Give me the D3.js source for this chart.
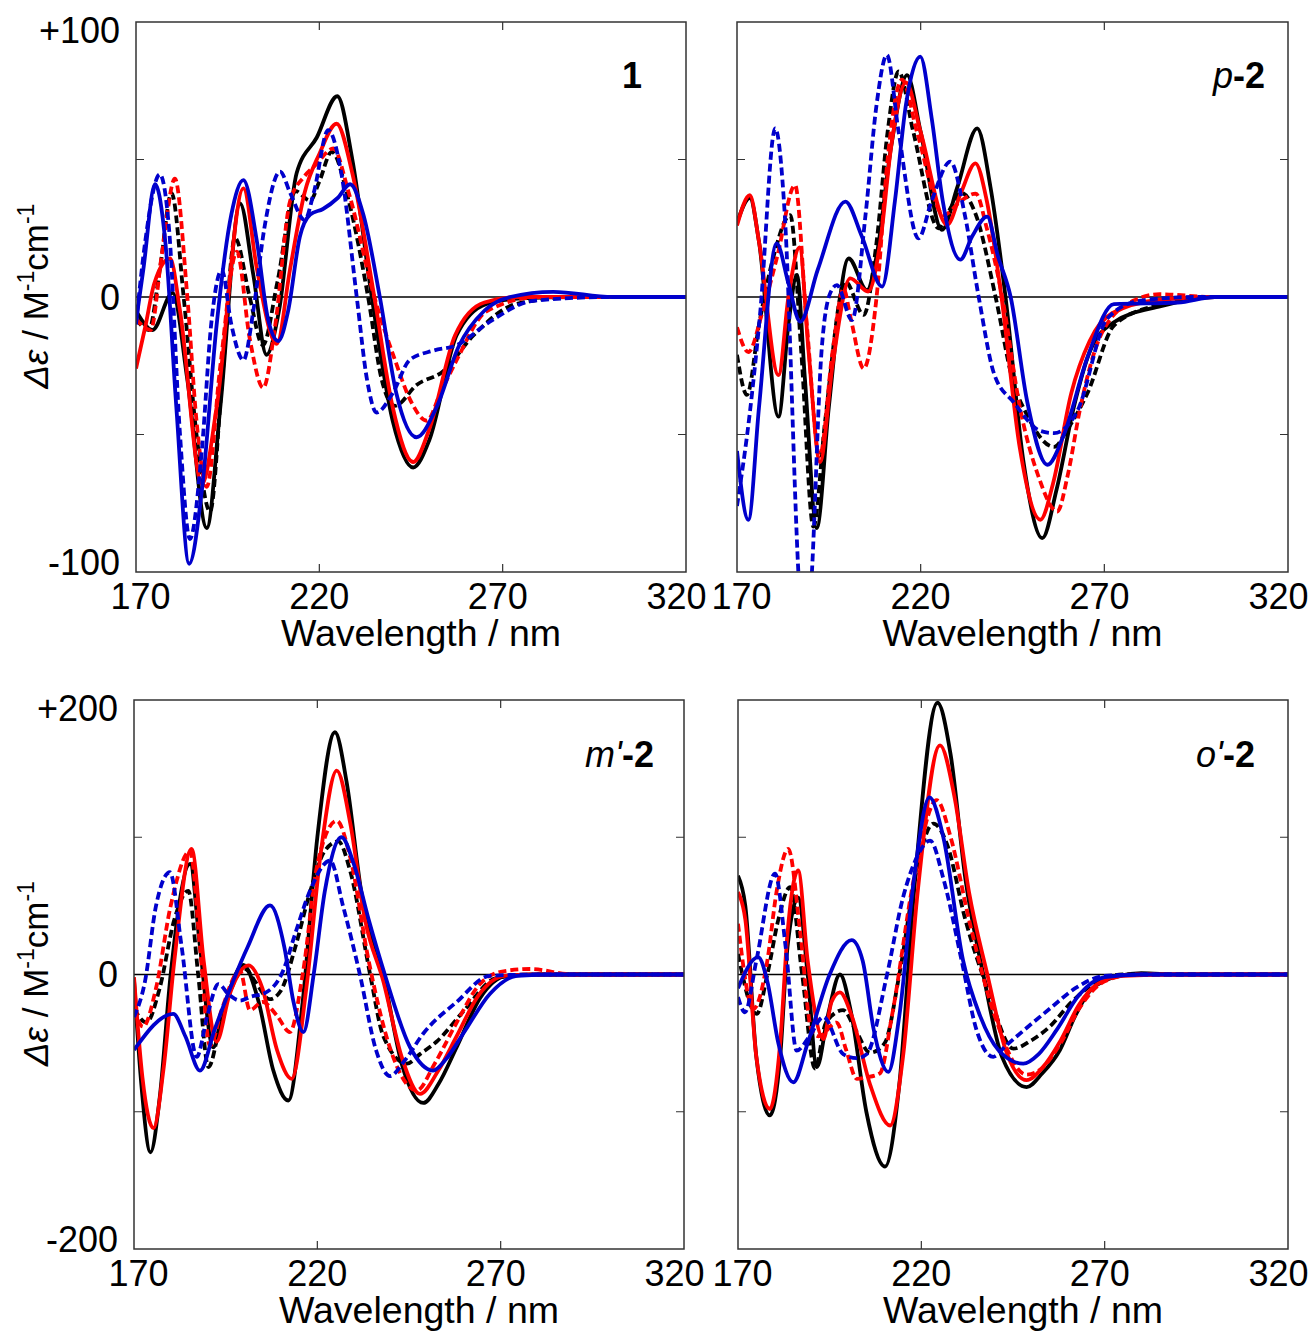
<!DOCTYPE html>
<html>
<head>
<meta charset="utf-8">
<script src="https://cdn.jsdelivr.net/npm/d3@7"></script>
<style>
body { margin: 0; background: #fff; }
text { font-family: "Liberation Sans", Arial, sans-serif; }
</style>
</head>
<body>
<svg id="chart" width="1312" height="1331"></svg>
<script>
var width = 1312,
    height = 1331;

// x ticks (nm) and y ticks for the two rows
const xTicks = [170, 220, 270, 320];
const yTicksTop = [-100, 0, 100];
const yTicksBottom = [-200, 0, 200];

// [wavelength nm, delta epsilon]
// panel 1
const p1_blackSolid = [[170,-5],[174.5,-12],[180,1.5],[184,-30],[189.3,-84],[193,-40],[198.4,34],[202,8],[205.6,-21],[209,-5],[213.8,45],[219.3,58],[224.9,73],[229,50],[234.3,0],[240,-45],[245.6,-62],[250,-52],[257.4,-14],[265.6,-2.5],[275,-0.5],[290,0],[320,0]];
const p1_redSolid = [[170,-26],[172.5,-11],[175,5],[179.3,14],[182,-5],[188,-68],[192,-40],[199.3,39.5],[203,10],[208.4,-17],[212,10],[216,38],[220,52],[224.7,63],[229,45],[235,0],[240,-40],[245.6,-60],[250,-48],[257,-14],[265,-2],[275,0],[320,0]];
const p1_blueSolid = [[170,-9],[172,10],[175.2,41],[178,20],[181,-40],[184.5,-97],[188,-70],[192,-10],[196,30],[199.3,42.5],[203,20],[206,-8],[208.8,-16],[211.5,-5],[214.7,22],[217.5,30],[221,32],[225,36],[228.4,41],[232,30],[236.5,0],[241,-35],[246.5,-51],[252,-40],[258,-18],[265,-5],[272,0],[283.8,1.9],[300,0],[320,0]];
const p1_blackDashed = [[170,-8],[173.5,-12],[176.5,10],[179.7,37.8],[183,0],[186.5,-50],[190.2,-78],[193.5,-30],[197,21.5],[201,0],[204.6,-17.5],[208.5,5],[213.5,38.5],[217.5,35],[220,42],[223.4,52.8],[228,35],[233.3,0],[237,-30],[240.6,-39.6],[246.5,-32],[253.8,-27],[262,-14],[273.8,-2.5],[290,0],[320,0]];
const p1_redDashed = [[170,-8],[174,-12],[177,15],[180.6,43],[184,0],[186.5,-45],[189.3,-69],[193,-25],[197.5,16.5],[201,-15],[204.7,-33],[208,-10],[212,34.7],[216,44],[219,48],[223.8,54],[228,38],[235,0],[240.6,-22.8],[245,-38],[249.3,-45],[253,-35],[257.5,-22.8],[265.6,-5.2],[280,0],[320,0]];
const p1_blueDashed = [[170,-10],[172.5,20],[176.5,44.6],[179,25],[182,-50],[184.7,-88],[188,-55],[190.5,-10],[193.4,9.8],[196,-10],[199.3,-23],[202,-5],[205,25],[209.3,45.6],[212,38],[216,28],[218.5,38],[222.4,60.7],[226,45],[230.2,0],[233,-30],[235.6,-42],[240,-35],[244.7,-22.8],[251.1,-19.5],[257.5,-17.5],[266.5,-9],[278.3,-1.4],[300,0],[320,0]];

// panel p-2
const p2_blackSolid = [[170,27],[173.5,36],[176,20],[181.3,-43.5],[184,-10],[186.3,8],[188.5,-30],[191.7,-84],[195,-40],[200.4,14],[205.4,2.5],[208,15],[212,55],[216.3,80.7],[220,60],[225.8,24.4],[230,40],[235.4,61.3],[239,40],[243.1,0],[248,-60],[253.1,-87.7],[257,-70],[261.7,-40],[266,-20],[272.6,-9.2],[285.4,-3.3],[300,0],[320,0]];
const p2_redSolid = [[170,26],[173.5,37],[176,20],[181.3,-28.4],[184,0],[187,18],[189.5,-20],[192.6,-60],[196,-25],[200.8,6.8],[205.7,2],[209,20],[212,55],[216,78],[220,60],[227.2,26.2],[231,38],[234.9,48.6],[238,35],[242,0],[247,-55],[252.6,-81],[256,-68],[261,-35],[266,-16],[272,-6],[285,-1],[300,0],[320,0]];
const p2_blueSolid = [[170,-56],[173.1,-81],[176,-40],[180.8,19.5],[184,5],[187.2,-9],[192,10],[199.5,34.7],[204,22],[209.5,3.8],[213,35],[216,70],[219.9,87.4],[223,65],[226,35],[230.8,13.6],[234,22],[238.1,29.2],[241,15],[244.5,0],[249,-38],[254.5,-61],[259,-50],[265.4,-22],[272.6,-2.6],[290,-2],[300,0],[320,0]];
const p2_blackDashed = [[170,-21],[172.7,-35.6],[176,-10],[180,15],[184.5,29.8],[187.5,-20],[190.8,-83.5],[194,-45],[199.5,5.6],[204.5,-6.5],[208,20],[211,60],[214,82],[218,60],[224.9,25],[228,32],[231,38],[235,30],[240.4,0],[245,-30],[249,-43],[256.3,-54.5],[260,-48],[265.4,-35],[272.6,-10.4],[283.5,-3.3],[300,0],[320,0]];
const p2_redDashed = [[170,-11],[173.1,-20],[177,-5],[181,15],[185.8,40.7],[189,-10],[192.5,-58],[196,-20],[199,3],[201,-8],[204.5,-26],[208,0],[211,50],[214.9,79],[219,60],[226.3,29.8],[231,35],[235,37.6],[238,25],[242.2,0],[247,-40],[252,-65],[257.2,-78],[260,-65],[263.5,-40],[269,-14],[278,-1.3],[285,1],[300,0],[320,0]];
const p2_blueDashed = [[170,-76],[173.5,-42],[176.3,-6],[180.4,61.3],[183,30],[186.7,-100],[188.5,-140],[190.4,-100],[193,-20],[195.4,1.5],[197.2,4.3],[201.3,-8.4],[205,30],[208,70],[210.8,88],[214,60],[219.4,21.3],[223,35],[228.1,49.2],[232,30],[235.8,0],[240,-28],[245.4,-38.4],[252.6,-48.7],[256.3,-49.5],[262.6,-41.6],[270.8,-7.8],[279.9,-1.3],[295,0],[320,0]];

// panel m'-2
const m2_blackSolid = [[170,-4],[172,-80],[174.5,-129.5],[177,-90],[180,0],[185.3,80.6],[188,20],[191.6,-53],[195,-20],[199.8,7],[204,-20],[208,-70],[212.1,-91.8],[216,-20],[220,100],[224.8,176.5],[228,140],[232,60],[238,0],[243,-65],[248.9,-93.6],[253,-80],[258,-53],[264.4,-17],[271.6,-1],[280,0],[320,0]];
const m2_redSolid = [[170,-2],[172.3,-75],[175.3,-112],[178,-70],[181,10],[185.7,91.6],[189,10],[192.5,-49],[196,-15],[201.2,6.6],[205,-10],[209,-55],[213,-76],[217,-10],[221,90],[225.3,148.6],[229,110],[233,40],[238,-5],[243,-60],[248,-87],[253,-70],[258,-45],[264,-15],[271,-1],[280,0],[320,0]];
const m2_blueSolid = [[170,-55],[180.7,-28.7],[184,-45],[188,-70],[192,-40],[197,-5],[201,20],[207.1,50.3],[211,20],[213.5,-20],[216.2,-42],[219,0],[222,60],[226.6,100],[230,80],[234,40],[238.4,0],[245.3,-53],[251.6,-70],[255,-62],[259.8,-43],[267.1,-14],[274.4,-1],[285,0],[320,0]];
const m2_blackDashed = [[170,-25],[173.4,-35],[177,-10],[181,40],[184.8,61],[187.5,0],[190.3,-67.5],[194,-30],[200.3,4],[203,-5],[207,-18],[210,-12],[214,20],[218,60],[222,90],[225.7,97],[229,75],[234.4,0],[238,-45],[244.4,-65],[248,-58],[252.5,-49],[259.8,-27],[268.9,-2.5],[280,0],[320,0]];
const m2_redDashed = [[170,-25],[172.5,-38],[176,-10],[180,50],[185.3,90],[188,20],[190.7,-52],[194,-25],[198.9,3],[201.6,-26],[205,-20],[209,-30],[212.5,-42],[216,0],[220,80],[225.3,112],[229,85],[234,10],[240,-55],[247.1,-84.5],[252,-65],[258,-35],[264,-8],[270,2],[278,4],[290,0],[320,0]];
const m2_blueDashed = [[170,-31],[173,-5],[176,50],[179.8,74.5],[183,20],[187.1,-60],[190,-30],[193,-7],[196,-15],[198.9,-19],[202,-16],[205.3,-14],[210.7,3],[214,30],[218,61],[223.5,83],[227,50],[231.6,0],[236,-55],[239.8,-74],[244,-62],[248.9,-43],[258,-20],[267,-1],[280,0],[320,0]];

// panel o'-2
const o2_blackSolid = [[170,72],[172,50],[175,-60],[178.7,-102.7],[181.5,-60],[183.5,20],[186.4,56],[189,0],[191.5,-67.5],[194.5,-30],[197.8,0],[201,-30],[205,-100],[210.1,-140],[214,-80],[218,60],[224.4,198],[228,160],[232,70],[236.9,0],[242,-60],[248.7,-82],[253,-72],[257.8,-55],[262,-30],[266,-12],[274,-1],[280,1],[290,0],[320,0]];
const o2_redSolid = [[170,60],[172,40],[175,-60],[178.7,-98],[181.5,-50],[183.5,30],[186.4,75.8],[189,10],[193.3,-47],[195.5,-20],[197.8,-13],[201,-30],[206,-80],[211.5,-110],[215,-60],[219,60],[225.1,167],[229,130],[233,60],[238,0],[243,-55],[248.7,-77],[253,-68],[258,-48],[263,-22],[268,-7],[275,-1],[290,0],[320,0]];
const o2_blueSolid = [[170,-10],[175.5,12.6],[178,-5],[181,-50],[185.1,-78.5],[189,-50],[195,0],[201,25],[204,10],[207,-40],[211,-71],[214,-30],[218,70],[222.2,129],[226,100],[231.4,10],[236,-30],[241,-55],[247.8,-65],[252,-58],[257,-40],[263,-15],[270,-2],[280,0],[320,0]];
const o2_blackDashed = [[170,15],[175.1,-28.7],[178,0],[181,40],[184.2,63.6],[187.5,0],[191,-68.5],[194,-35],[198.7,-26],[202,-40],[206,-57],[210,-50],[214,0],[219,80],[223.3,110],[227,95],[232,40],[238,-10],[245.1,-54],[250,-48],[255,-38],[261,-20],[268,-5],[275,0],[320,0]];
const o2_redDashed = [[170,37],[174.2,-25],[178,10],[180.5,60],[183.7,91.6],[187,30],[190,-40],[192,-45],[196.9,-35],[199.5,-55],[202.4,-76],[205,-75],[208.7,-72],[212,-30],[218,70],[224.2,127],[228,100],[233,40],[240,-30],[248.7,-73],[253,-68],[258,-50],[263,-25],[270,-5],[278,0],[320,0]];
const o2_blueDashed = [[170,-16.5],[171.9,-27.5],[175,10],[180.1,73.4],[183,20],[186,-55.5],[189.5,-45],[193.3,-31],[198.7,-58],[202.4,-61],[205.1,-58],[210.5,-2],[215,56],[218.7,85],[222.4,97.6],[226,70],[231,10],[235,-40],[239.6,-60],[243,-52],[247.8,-41],[255,-25],[262,-10],[270,-1],[280,0],[320,0]];

const BLACK = "#000000", RED = "#ff0000", BLUE = "#0000cc";

const panels = [
    { left: 136, right: 686, top: 22, bottom: 572, yTicks: yTicksTop, yLabels: true,
      label: [{ t: "1", w: "bold", s: "normal" }], labelX: 642, labelY: 88,
      series: [p1_blackSolid, p1_blackDashed, p1_redSolid, p1_redDashed, p1_blueSolid, p1_blueDashed] },
    { left: 737, right: 1288, top: 22, bottom: 572, yTicks: yTicksTop, yLabels: false,
      label: [{ t: "p", w: "normal", s: "italic" }, { t: "-2", w: "bold", s: "normal" }], labelX: 1265, labelY: 88,
      series: [p2_blackSolid, p2_blackDashed, p2_redSolid, p2_redDashed, p2_blueSolid, p2_blueDashed] },
    { left: 134, right: 684, top: 700, bottom: 1249, yTicks: yTicksBottom, yLabels: true,
      label: [{ t: "m'", w: "normal", s: "italic" }, { t: "-2", w: "bold", s: "normal" }], labelX: 654, labelY: 767,
      series: [m2_blackSolid, m2_blackDashed, m2_redSolid, m2_redDashed, m2_blueSolid, m2_blueDashed] },
    { left: 738, right: 1288, top: 700, bottom: 1249, yTicks: yTicksBottom, yLabels: false,
      label: [{ t: "o'", w: "normal", s: "italic" }, { t: "-2", w: "bold", s: "normal" }], labelX: 1255, labelY: 767,
      series: [o2_blackSolid, o2_blackDashed, o2_redSolid, o2_redDashed, o2_blueSolid, o2_blueDashed] }
];

const styles = [
    { color: BLACK, dash: null }, { color: BLACK, dash: "8,4" },
    { color: RED, dash: null }, { color: RED, dash: "8,4" },
    { color: BLUE, dash: null }, { color: BLUE, dash: "8,4" }
];

const svg = d3.select("#chart");

panels.forEach(function (p, i) {
    const x = d3.scaleLinear().domain([170, 320]).range([p.left, p.right]);
    const yMax = p.yTicks[2];
    const y = d3.scaleLinear().domain([-yMax, yMax]).range([p.bottom, p.top]);
    const g = svg.append("g");

    g.append("clipPath").attr("id", "clip" + i)
        .append("rect")
        .attr("x", p.left).attr("y", p.top)
        .attr("width", p.right - p.left).attr("height", p.bottom - p.top);

    // zero line
    g.append("line")
        .attr("x1", p.left).attr("x2", p.right)
        .attr("y1", y(0)).attr("y2", y(0))
        .attr("stroke", "#000").attr("stroke-width", 1.5);

    // curves
    const line = d3.line()
        .x(function (d) { return x(d[0]); })
        .y(function (d) { return y(d[1]); })
        .curve(d3.curveMonotoneX);

    g.append("g").attr("clip-path", "url(#clip" + i + ")")
        .selectAll("path")
        .data(p.series)
        .join("path")
        .attr("d", line)
        .attr("fill", "none")
        .attr("stroke", function (d, j) { return styles[j].color; })
        .attr("stroke-width", 3.8)
        .attr("stroke-dasharray", function (d, j) { return styles[j].dash; })
        .attr("stroke-linejoin", "round");

    // frame
    g.append("rect")
        .attr("x", p.left).attr("y", p.top)
        .attr("width", p.right - p.left).attr("height", p.bottom - p.top)
        .attr("fill", "none").attr("stroke", "#333").attr("stroke-width", 1.5);

    // inner ticks
    const inX = xTicks.slice(1, 3);
    const inY = [-yMax / 2, yMax / 2];
    g.selectAll(".tx")
        .data(inX)
        .join("path")
        .attr("d", function (d) {
            return "M" + x(d) + "," + p.top + "v8M" + x(d) + "," + p.bottom + "v-8";
        })
        .attr("stroke", "#333").attr("stroke-width", 1.2);
    g.selectAll(".ty")
        .data(inY)
        .join("path")
        .attr("d", function (d) {
            return "M" + p.left + "," + y(d) + "h8M" + p.right + "," + y(d) + "h-8";
        })
        .attr("stroke", "#333").attr("stroke-width", 1.2);

    // x axis labels
    const xa = g.append("g")
        .attr("transform", "translate(0," + p.bottom + ")")
        .call(d3.axisBottom(x).tickValues(xTicks).tickSize(0).tickFormat(d3.format("d")));
    xa.select(".domain").remove();
    xa.selectAll("text")
        .attr("dy", null)
        .attr("y", 37)
        .attr("dx", function (d) { return 4 - 14 * (d - 170) / 150; })
        .attr("font-size", 36)
        .attr("font-family", "'Liberation Sans', Arial, sans-serif")
        .attr("fill", "#000");

    g.append("text")
        .attr("x", (p.left + p.right) / 2 + 10)
        .attr("y", p.bottom + 74)
        .attr("text-anchor", "middle")
        .attr("font-size", 37.5)
        .text("Wavelength / nm");

    if (p.yLabels) {
        const ya = g.append("g")
            .attr("transform", "translate(" + p.left + ",0)")
            .call(d3.axisLeft(y).tickValues(p.yTicks).tickSize(0).tickPadding(16)
                .tickFormat(function (d) { return d > 0 ? "+" + d : (d < 0 ? "-" + (-d) : "0"); }));
        ya.select(".domain").remove();
        ya.selectAll("text")
            .attr("font-size", 36)
            .attr("font-family", "'Liberation Sans', Arial, sans-serif")
            .attr("fill", "#000")
            .attr("dy", function (d) { return d > 0 ? 20 : (d < 0 ? 2 : 12); });

        const t = g.append("text")
            .attr("transform", "translate(48," + (y(0) - 1) + ") rotate(-90)")
            .attr("text-anchor", "middle")
            .attr("font-size", 35);
        t.append("tspan").attr("font-style", "italic").text("Δε");
        t.append("tspan").text(" / M");
        t.append("tspan").attr("font-size", 23).attr("dy", -14).text("-1");
        t.append("tspan").attr("dy", 14).text("cm");
        t.append("tspan").attr("font-size", 23).attr("dy", -14).text("-1");
    }

    // panel label
    const lt = g.append("text")
        .attr("x", p.labelX).attr("y", p.labelY)
        .attr("text-anchor", "end")
        .attr("font-size", 36);
    lt.selectAll("tspan")
        .data(p.label)
        .join("tspan")
        .attr("font-weight", function (d) { return d.w; })
        .attr("font-style", function (d) { return d.s; })
        .text(function (d) { return d.t; });
});
</script>
</body>
</html>
